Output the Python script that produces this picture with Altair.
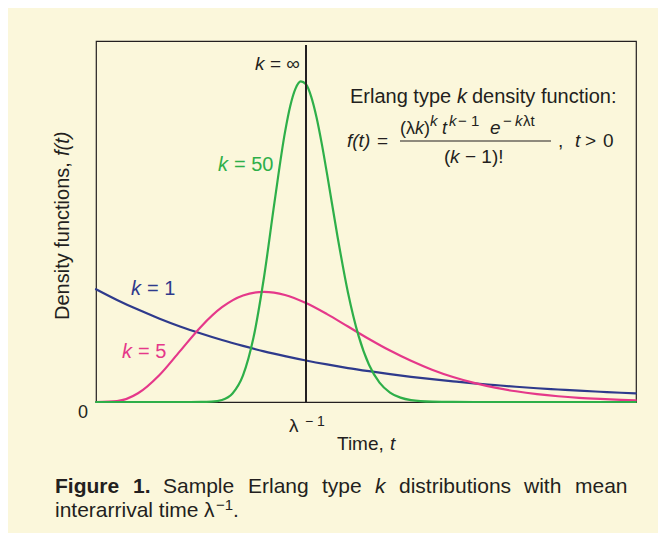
import altair as alt
import pandas as pd

FONT = "Liberation Sans"
BG = "#FBF7DB"
INK = "#231F20"
BLUE = "#2E3A8C"
PINK = "#E5388A"
GREEN = "#2EAF49"

# ---- data (time t in units of 1/lambda, density f(t)) ----
t_k1 = [0.0, 0.1, 0.2, 0.3, 0.4, 0.5, 0.6, 0.7, 0.8, 0.9, 1.0, 1.1, 1.2, 1.3,
        1.4, 1.5, 1.6, 1.7, 1.8, 1.9, 2.0, 2.1, 2.2, 2.3, 2.4, 2.5, 2.57]
f_k1 = [1.000, 0.905, 0.819, 0.741, 0.670, 0.607, 0.549, 0.497, 0.449, 0.407,
        0.368, 0.333, 0.301, 0.273, 0.247, 0.223, 0.202, 0.183, 0.165, 0.150,
        0.135, 0.122, 0.111, 0.100, 0.091, 0.082, 0.077]

t_k5 = [0.0, 0.1, 0.2, 0.3, 0.4, 0.5, 0.6, 0.7, 0.8, 0.9, 1.0, 1.1, 1.2, 1.3,
        1.4, 1.5, 1.6, 1.7, 1.8, 1.9, 2.0, 2.1, 2.2, 2.3, 2.4, 2.5, 2.57]
f_k5 = [0.0, 0.008, 0.077, 0.235, 0.451, 0.668, 0.840, 0.944, 0.976, 0.949,
        0.877, 0.779, 0.669, 0.559, 0.456, 0.365, 0.286, 0.221, 0.169, 0.127,
        0.095, 0.070, 0.051, 0.037, 0.027, 0.019, 0.015]

t_k50 = [0.0, 0.45, 0.5, 0.55, 0.6, 0.65, 0.7, 0.75, 0.8, 0.85, 0.9, 0.925,
         0.95, 0.975, 1.0, 1.025, 1.05, 1.075, 1.1, 1.15, 1.2, 1.25, 1.3, 1.35,
         1.4, 1.45, 1.5, 1.6, 1.7, 1.8, 2.0, 2.57]
f_k50 = [0.0, 0.0, 0.0004, 0.003, 0.018, 0.076, 0.236, 0.571, 1.106, 1.772,
         2.392, 2.624, 2.778, 2.842, 2.816, 2.705, 2.524, 2.290, 2.024, 1.467,
         0.969, 0.588, 0.330, 0.172, 0.084, 0.0385, 0.0166, 0.0026, 0.0003,
         0.0, 0.0, 0.0]

mean_time = [1.0]   # lambda^-1

series_names = ["k = 1", "k = 5", "k = 50"]
series_colors = [BLUE, PINK, GREEN]

rows = []
for name, ts, fs in zip(series_names, [t_k1, t_k5, t_k50], [f_k1, f_k5, f_k50]):
    for t, f in zip(ts, fs):
        rows.append({"series": name, "t": t, "f": f})
curves_df = pd.DataFrame(rows)

XS = alt.Scale(domain=[0, 2.5714], nice=False, zero=False)
YS = alt.Scale(domain=[0, 3.2], nice=False)

curves = alt.Chart(curves_df).mark_line(
    strokeWidth=2.2, interpolate="monotone", strokeCap="round"
).encode(
    x=alt.X("t:Q", scale=XS, axis=None),
    y=alt.Y("f:Q", scale=YS, axis=None),
    color=alt.Color("series:N", scale=alt.Scale(domain=series_names, range=series_colors), legend=None),
    order=alt.Order("t:Q"),
)

mean_rule = alt.Chart(pd.DataFrame({"t": mean_time})).mark_rule(
    color=INK, strokeWidth=2
).encode(
    x=alt.X("t:Q", scale=XS, axis=None),
    y=alt.value(4),
    y2=alt.value(361),
)

frac_bar = alt.Chart(pd.DataFrame({"t": mean_time})).mark_rule(
    color=INK, strokeWidth=1.2
).encode(x=alt.value(304), x2=alt.value(455), y=alt.value(100))

# ---- text layout: (text, x px, baseline y px, font size, colour) in plot-area pixels ----
normal_txt = [
    ("= \u221e", 174, 29, 19, INK),
    ("= 50", 138, 130, 20, GREEN),
    ("= 1", 51, 254, 20, BLUE),
    ("= 5", 42, 317, 20, PINK),
    ("Erlang type", 254, 62, 20, INK),
    ("density function:", 376, 62, 20, INK),
    ("=", 281, 106, 19, INK),
    ("(\u03bb", 304, 93, 18, INK),
    (")", 328, 93, 18, INK),
    ("\u2212 1", 362, 85, 15, INK),
    ("\u2212", 407, 85, 15, INK),
    ("\u03bbt", 427, 85, 15, INK),
    ("(", 348, 122, 19, INK),
    ("\u2212 1)!", 369, 122, 19, INK),
    (",", 462, 106, 19, INK),
    (">", 489, 106, 19, INK),
    ("0", 507, 106, 19, INK),
    ("0", -18, 377, 18, INK),
    ("\u03bb", 193, 391, 19, INK),
    ("\u2212 1", 209, 385, 14, INK),
    ("Time,", 241, 409, 19, INK),
    ("Sample", 67, 452, 21, INK),
    ("Erlang", 152, 452, 21, INK),
    ("type", 226, 452, 21, INK),
    ("distributions", 303, 452, 21, INK),
    ("with", 428, 452, 21, INK),
    ("mean", 479, 452, 21, INK),
    ("interarrival time", -41, 476, 21, INK),
    ("\u03bb", 108, 476, 21, INK),
    ("\u22121", 120, 469, 15, INK),
    (".", 137, 476, 21, INK),
]
italic_txt = [
    ("k", 159, 29, 19, INK),
    ("k", 122, 130, 20, GREEN),
    ("k", 35, 254, 20, BLUE),
    ("k", 26, 317, 20, PINK),
    ("k", 361, 62, 20, INK),
    ("f(t)", 251, 106, 19, INK),
    ("k", 319, 93, 18, INK),
    ("k", 334, 85, 15, INK),
    ("t", 346, 93, 18, INK),
    ("k", 353, 85, 15, INK),
    ("e", 394, 93, 19, INK),
    ("k", 419, 85, 15, INK),
    ("k", 354, 122, 19, INK),
    ("t", 479, 106, 19, INK),
    ("t", 294, 409, 19, INK),
    ("k", 279, 452, 21, INK),
]
bold_txt = [
    ("Figure", -41, 452, 21, INK),
    ("1.", 37, 452, 21, INK),
]
rot_normal = [("Density functions,", -27, 279, 20, INK)]
rot_italic = [("f(t)", -27, 115, 20, INK)]


def text_layer(items, style="normal", weight="normal", angle=0):
    df = pd.DataFrame(items, columns=["text", "px", "py", "size", "color"])
    return alt.Chart(df).mark_text(
        font=FONT, fontStyle=style, fontWeight=weight, align="left",
        baseline="alphabetic", angle=angle
    ).encode(
        x=alt.X("px:Q", scale=None, axis=None),
        y=alt.Y("py:Q", scale=None, axis=None),
        text="text:N",
        size=alt.Size("size:Q", scale=None, legend=None),
        color=alt.Color("color:N", scale=None, legend=None),
    )


texts = [
    text_layer(normal_txt),
    text_layer(italic_txt, style="italic"),
    text_layer(bold_txt, weight="bold"),
    text_layer(rot_normal, angle=270),
    text_layer(rot_italic, style="italic", angle=270),
]

chart = alt.layer(curves, mean_rule, frac_bar, *texts).resolve_scale(
    x="independent", y="independent", color="independent", size="independent"
).properties(
    width=540, height=361,
    autosize=alt.AutoSizeParams(type="none"),
    padding={"left": 88, "top": 33, "right": 22, "bottom": 131},
    background=BG,
).configure_view(
    stroke=INK, strokeWidth=1.2
)

chart.save("out.html", embed_options={"renderer": "svg", "actions": False})
